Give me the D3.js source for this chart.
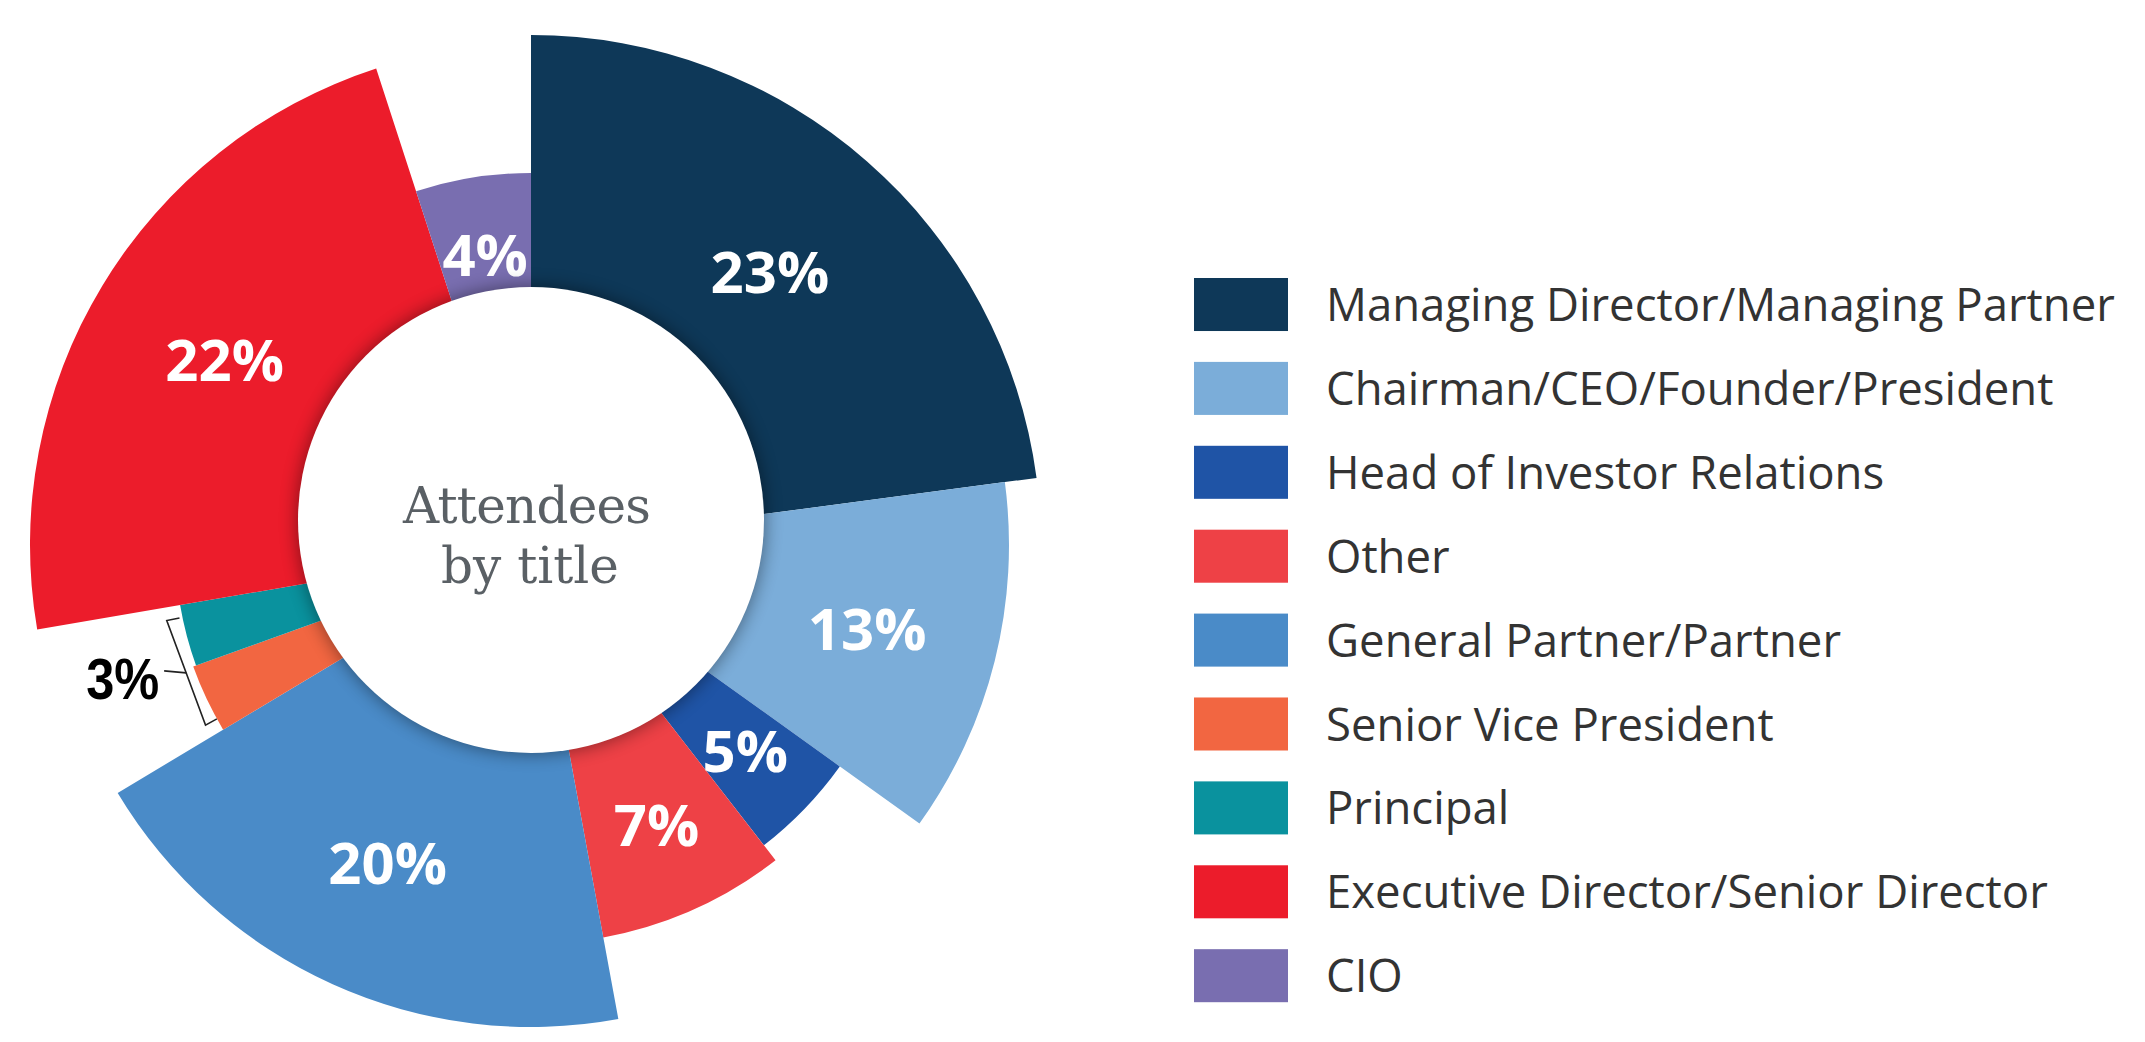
<!DOCTYPE html>
<html>
<head>
<meta charset="utf-8">
<script src="https://cdn.jsdelivr.net/npm/d3@7"></script>
<style>
  body { margin: 0; background: #fff; }
  svg { display: block; }
</style>
</head>
<body>
<div id="chart"></div>
<script>
// attendee titles, in the order the slices run clockwise from 12 o'clock
const categories = [
  "Managing Director/Managing Partner",
  "Chairman/CEO/Founder/President",
  "Head of Investor Relations",
  "Other",
  "General Partner/Partner",
  "Senior Vice President",
  "Principal",
  "Executive Director/Senior Director",
  "CIO"
];

// share of the circle each slice takes in the picture (percent)
const shares = [22.9, 12.0, 4.6, 7.6, 19.3, 3.1, 2.8, 22.7, 5.0];

// percentages printed on the chart
const printed = [23, 13, 5, 7, 20, 3, 3, 22, 4];

// the two small slices share one bracketed label
const bracketed = ["Senior Vice President", "Principal"];

const colors = ["#0e3858", "#7badd9", "#1f54a6", "#ee4146", "#4a8bc8", "#f26641", "#0a929e", "#ec1c2b", "#796eb0"];

// outer radius of each slice (layout only)
const reach = [510, 478, 380, 399, 482, 359, 356, 501, 372];

const width = 2145;
const height = 1042;
const cx = 531;
const cy = 545;

const rows = categories.map((name, i) => ({ name, share: shares[i], pct: printed[i] }));

const color = d3.scaleOrdinal().domain(categories).range(colors);
const radius = d3.scaleOrdinal().domain(categories).range(reach);

const svg = d3.select("#chart").append("svg").attr("width", width).attr("height", height);

const defs = svg.append("defs");
defs
  .append("filter")
  .attr("id", "soft")
  .attr("x", "-30%")
  .attr("y", "-30%")
  .attr("width", "160%")
  .attr("height", "160%")
  .append("feGaussianBlur")
  .attr("stdDeviation", 9);

const pie = d3.pie().sort(null).value((d) => d.share);
const arcs = pie(rows);

const arc = d3
  .arc()
  .innerRadius(150)
  .outerRadius((d) => radius(d.data.name));

const labelArc = (d) =>
  d3.arc().innerRadius(215).outerRadius(radius(d.data.name)).centroid(d);

const g = svg.append("g").attr("transform", `translate(${cx},${cy})`);

g.selectAll("path.slice")
  .data(arcs)
  .enter()
  .append("path")
  .attr("class", "slice")
  .attr("d", arc)
  .attr("fill", (d) => color(d.data.name));

// white hole with a soft shadow, sitting a little above the pie centre
const hole = svg.append("g").attr("transform", `translate(${cx},${cy - 25})`);
hole.append("circle").attr("r", 234).attr("fill", "#000").attr("opacity", 0.42).attr("filter", "url(#soft)");
hole.append("circle").attr("r", 233).attr("fill", "#fff");

const title = hole
  .append("text")
  .attr("text-anchor", "middle")
  .attr("font-family", "'DejaVu Serif', serif")
  .attr("font-size", 50)
  .attr("fill", "#5a6065");
title.append("tspan").attr("x", -4).attr("y", 3).attr("textLength", 248).text("Attendees");
title.append("tspan").attr("x", -1).attr("y", 63).text("by title");

// percentage labels inside the slices
g.selectAll("text.pct")
  .data(arcs.filter((d) => !bracketed.includes(d.data.name)))
  .enter()
  .append("text")
  .attr("class", "pct")
  .attr("transform", (d) => `translate(${labelArc(d)})`)
  .attr("dy", "0.36em")
  .attr("text-anchor", "middle")
  .attr("font-family", "'Open Sans', sans-serif")
  .attr("font-weight", 700)
  .attr("font-size", 58)
  .attr("fill", "#fff")
  .text((d) => d.data.pct + "%");

// bracket round the two thin slices
const small = arcs.filter((d) => bracketed.includes(d.data.name));
const a0 = d3.min(small, (d) => d.startAngle) + Math.PI / 90;
const a1 = d3.max(small, (d) => d.endAngle) - Math.PI / 90;
const polar = (r, a) => [r * Math.sin(a), -r * Math.cos(a)];
const rIn = d3.max(small, (d) => radius(d.data.name));
const rOut = rIn + 13;

g.append("path")
  .attr("d", d3.line()([polar(rIn, a1), polar(rOut, a1), polar(rOut, a0), polar(rIn, a0)]))
  .attr("fill", "none")
  .attr("stroke", "#222")
  .attr("stroke-width", 1.6);

const spineTop = polar(rOut, a1);
const spineBottom = polar(rOut, a0);
const mid = [(spineTop[0] + spineBottom[0]) / 2, (spineTop[1] + spineBottom[1]) / 2];

g.append("line")
  .attr("x1", mid[0])
  .attr("y1", mid[1])
  .attr("x2", mid[0] - 22)
  .attr("y2", mid[1] - 2)
  .attr("stroke", "#222")
  .attr("stroke-width", 1.6);

g.append("text")
  .attr("x", mid[0] - 100)
  .attr("y", mid[1] + 26)
  .attr("font-family", "'Liberation Sans', Arial, sans-serif")
  .attr("font-weight", 700)
  .attr("font-size", 58)
  .attr("textLength", 73)
  .attr("lengthAdjust", "spacingAndGlyphs")
  .attr("fill", "#000")
  .text(small[0].data.pct + "%");

// legend
const y = d3
  .scaleBand()
  .domain(categories)
  .range([278, 278 + 8 * 83.9 + 53])
  .paddingInner(0.368)
  .paddingOuter(0);

const legend = svg.append("g").attr("transform", "translate(1194,0)");

const items = legend
  .selectAll("g")
  .data(categories)
  .enter()
  .append("g")
  .attr("transform", (d) => `translate(0,${y(d)})`);

items
  .append("rect")
  .attr("width", 94)
  .attr("height", y.bandwidth())
  .attr("fill", (d) => color(d));

items
  .append("text")
  .attr("x", 132)
  .attr("y", y.bandwidth() / 2 + 16.5)
  .attr("font-family", "'Open Sans', sans-serif")
  .attr("font-size", 45.5)
  .attr("fill", "#333")
  .text((d) => d);
</script>
</body>
</html>
